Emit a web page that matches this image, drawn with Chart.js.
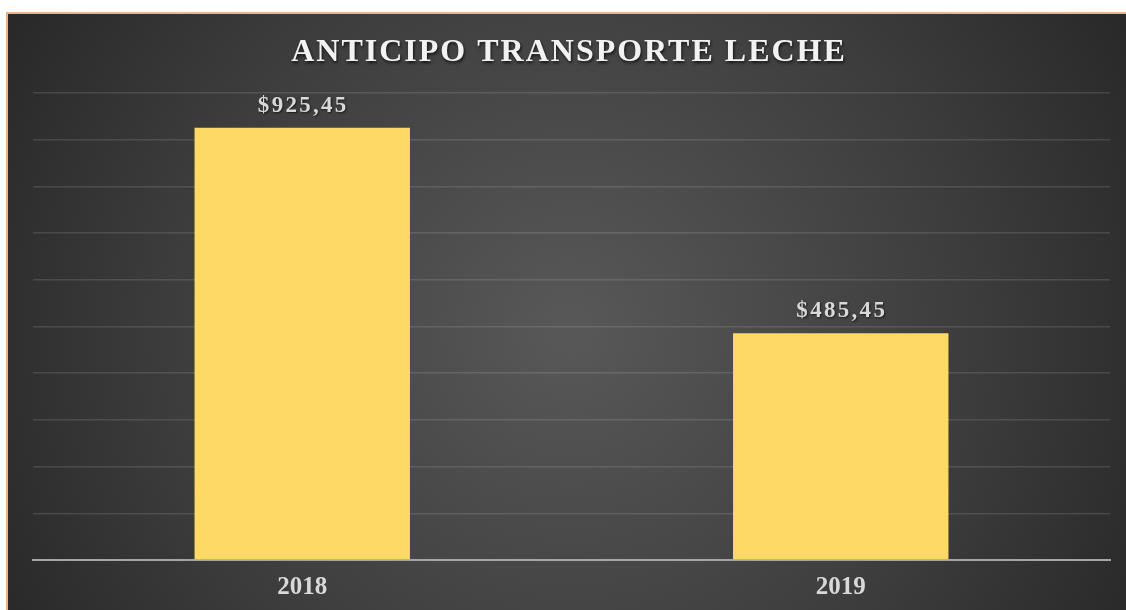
<!DOCTYPE html>
<html>
<head>
<meta charset="utf-8">
<script src="https://cdn.jsdelivr.net/npm/chart.js@4"></script>
<style>
  html, body { margin: 0; padding: 0; background: #ffffff; }
  #wrap { width: 1126px; height: 610px; position: relative; }
</style>
</head>
<body>
<div id="wrap"><canvas id="staticChart" width="1126" height="610"></canvas></div>
<script>
// chart data
var chartTitle = 'ANTICIPO TRANSPORTE LECHE';
var years = ['2018', '2019'];
var anticipo = [925.45, 485.45];
var yMax = 1000;
var yStep = 100;

function money(v) {
    return '$' + v.toFixed(2).replace('.', ',');
}

// dark radial background + orange frame
var backdrop = {
    id: 'backdrop',
    beforeDraw: function(chart) {
        var ctx = chart.ctx;
        ctx.save();
        ctx.fillStyle = '#ffffff';
        ctx.fillRect(0, 0, chart.width, chart.height);
        var g = ctx.createRadialGradient(570, 330, 20, 570, 330, 720);
        g.addColorStop(0, '#575757');
        g.addColorStop(0.55, '#3c3c3c');
        g.addColorStop(1, '#222222');
        ctx.fillStyle = g;
        ctx.fillRect(7, 13, chart.width, chart.height);
        ctx.strokeStyle = '#f4b183';
        ctx.lineWidth = 2;
        ctx.strokeRect(7, 13, chart.width + 10, chart.height + 10);
        ctx.restore();
    },
    afterDraw: function(chart) {
        var ctx = chart.ctx;
        ctx.save();
        ctx.font = 'bold 32px "Liberation Serif", "Times New Roman", serif';
        ctx.letterSpacing = '2px';
        ctx.textAlign = 'center';
        ctx.textBaseline = 'alphabetic';
        ctx.shadowColor = 'rgba(0,0,0,0.7)';
        ctx.shadowBlur = 3;
        ctx.shadowOffsetX = 1;
        ctx.shadowOffsetY = 2;
        ctx.fillStyle = '#f2f2f2';
        ctx.fillText(chartTitle, 569, 61);
        ctx.restore();
    }
};

// value labels above the bars
var barLabels = {
    id: 'barLabels',
    afterDatasetsDraw: function(chart) {
        var ctx = chart.ctx;
        var meta = chart.getDatasetMeta(0);
        ctx.save();
        ctx.font = 'bold 23px "Liberation Serif", "Times New Roman", serif';
        ctx.letterSpacing = '2.3px';
        ctx.textAlign = 'center';
        ctx.textBaseline = 'alphabetic';
        ctx.shadowColor = 'rgba(0,0,0,0.6)';
        ctx.shadowBlur = 2;
        ctx.shadowOffsetX = 1;
        ctx.shadowOffsetY = 1;
        ctx.fillStyle = '#d9d9d9';
        meta.data.forEach(function(bar, i) {
            ctx.fillText(money(anticipo[i]), bar.x + 1, bar.y - 16);
        });
        ctx.restore();
    }
};

var ctx = document.getElementById('staticChart').getContext('2d');
var myChart = new Chart(ctx, {
    type: 'bar',
    data: {
        labels: years,
        datasets: [{
            label: chartTitle,
            data: anticipo,
            backgroundColor: '#ffd966',
            borderWidth: 0,
            barPercentage: 0.4,
            categoryPercentage: 1.0
        }]
    },
    options: {
        responsive: false,
        animation: false,
        layout: {
            padding: { top: 93, left: 33, right: 16, bottom: 0 }
        },
        plugins: {
            legend: { display: false },
            title: { display: false },
            tooltip: { enabled: false }
        },
        scales: {
            x: {
                grid: { display: false, drawTicks: false },
                border: { display: true, color: '#a6a6a6', width: 2 },
                ticks: {
                    color: '#d9d9d9',
                    padding: 13,
                    font: { family: '"Liberation Serif", "Times New Roman", serif', size: 25, weight: 'bold' }
                },
                afterFit: function(scale) { scale.height = 50; }
            },
            y: {
                min: 0,
                max: yMax,
                ticks: { display: false, stepSize: yStep },
                border: { display: false },
                grid: {
                    drawTicks: false,
                    color: 'rgba(255,255,255,0.12)',
                    lineWidth: 1.5
                },
                afterFit: function(scale) { scale.width = 0; }
            }
        }
    },
    plugins: [backdrop, barLabels]
});
</script>
</body>
</html>
